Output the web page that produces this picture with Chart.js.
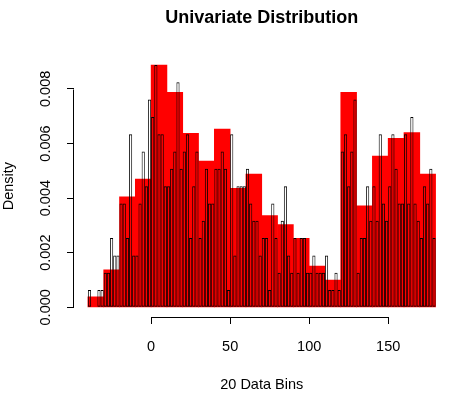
<!DOCTYPE html>
<html><head><meta charset="utf-8">
<script src="https://cdn.jsdelivr.net/npm/chart.js@4/dist/chart.umd.min.js"></script>
<style>html,body{margin:0;padding:0;background:#fff}canvas{display:block}</style>
</head><body>
<canvas id="c" width="463" height="398"></canvas>
<script>
// ---- data ----
const titleText = 'Univariate Distribution';
const xTitle = '20 Data Bins';
const yTitle = 'Density';

// coarse histogram (bin width 10): bin midpoints and densities
const redMids = [-35,-25,-15,-5,5,15,25,35,45,55,65,75,85,95,105,115,125,135,145,155,165,175];
const redDensity = [0.00038,0.00137,0.00405,0.0047,0.008875,0.007875,0.00637,0.00536,0.00653,0.00436,0.00488,
                    0.00336,0.00303,0.00253,0.00151,0.00100,0.007875,0.00372,0.00554,0.00619,0.0064,0.00488];

// fine histogram (bin width 2): bin midpoints and densities
const narrowMids = [-39,-37,-35,-33,-31,-29,-27,-25,-23,-21,
  -19,-17,-15,-13,-11,-9,-7,-5,-3,-1,
  1,3,5,7,9,11,13,15,17,19,
  21,23,25,27,29,31,33,35,37,39,
  41,43,45,47,49,51,53,55,57,59,
  61,63,65,67,69,71,73,75,77,79,
  81,83,85,87,89,91,93,95,97,99,
  101,103,105,107,109,111,113,115,117,119,
  121,123,125,127,129,131,133,135,137,139,
  141,143,145,147,149,151,153,155,157,159,
  161,163,165,167,169,171,173,175,177,179];
const narrowDensity = [
  0.000634,0,0,0.000634,0.000634,0.001268,0.001268,0.002536,0.001902,0.001902,
  0.003804,0.003804,0.002536,0.00634,0.001902,0.001902,0.003804,0.005706,0.004438,0.007608,
  0.006974,0.008876,0.00634,0.00634,0.004438,0.004438,0.005072,0.005706,0.008242,0.005072,
  0.005706,0.00634,0.002536,0.004438,0.005706,0.002536,0.00317,0.005072,0.003804,0.003804,
  0.005072,0.005072,0.005706,0.005072,0.000634,0.00634,0.001902,0.004438,0.004438,0.004438,
  0.005072,0.003804,0.00317,0.00317,0.001902,0.002536,0.002536,0.000634,0.003804,0.002536,
  0.001268,0.00317,0.004438,0.001902,0.001268,0.002536,0.001268,0.002536,0.002536,0.001268,
  0.001268,0.001902,0.001268,0.001268,0.001268,0.001902,0.000634,0.000634,0.001268,0.000634,
  0.005706,0.00634,0.004438,0.005706,0.007608,0.001268,0.002536,0.002536,0.004438,0.00317,
  0.004438,0.00317,0.00634,0.003804,0.00317,0.004438,0.00634,0.005072,0.003804,0.003804,
  0.00634,0.003804,0.006974,0.003804,0.00317,0.002536,0.004438,0.003804,0.005072,0.002536];

const xTickValues = [0, 50, 100, 150];
const xTickLabels = ['0', '50', '100', '150'];
const yTickValues = [0, 0.002, 0.004, 0.006, 0.008];
const yTickLabels = ['0.000', '0.002', '0.004', '0.006', '0.008'];

// ---- chart ----
const FONT = "'Liberation Sans', Arial, sans-serif";
const X_MIN = -48.8, X_MAX = 188.8, Y_MIN = -0.000355, Y_MAX = 0.00923;

// R-style axis lines spanning only first..last tick
const rAxes = {
  id: 'rAxes',
  afterDatasetsDraw(chart) {
    const ctx = chart.ctx, xs = chart.scales.x, ys = chart.scales.y, a = chart.chartArea;
    const al = v => Math.round(v) + 0.5;
    ctx.save();
    ctx.strokeStyle = '#000';
    ctx.lineWidth = 1;
    ctx.beginPath();
    const ax = Math.round(a.left) - 0.5;
    ctx.moveTo(ax, al(ys.getPixelForValue(yTickValues[0])));
    ctx.lineTo(ax, al(ys.getPixelForValue(yTickValues[yTickValues.length - 1])));
    const ay = Math.round(a.bottom) + 0.5;
    ctx.moveTo(al(xs.getPixelForValue(xTickValues[0])), ay);
    ctx.lineTo(al(xs.getPixelForValue(xTickValues[xTickValues.length - 1])), ay);
    ctx.stroke();
    ctx.restore();
  }
};

const axisFont = {family: FONT, size: 14.5, lineHeight: 1.2};
const tickGrid = {display: true, drawOnChartArea: false, drawTicks: true, tickLength: 7, offset: false,
                  color: '#000', tickColor: '#000', lineWidth: 1, tickWidth: 1};

new Chart(document.getElementById('c'), {
  type: 'bar',
  data: {
    datasets: [
      {
        label: 'fine',
        data: narrowMids.map((m, i) => ({x: m, y: narrowDensity[i]})),
        xAxisID: 'x2', yAxisID: 'y',
        backgroundColor: 'rgba(0,0,0,0)',
        borderColor: '#000',
        borderWidth: {top: 1, bottom: 1, left: 0.8, right: 0.8},
        borderSkipped: false,
        inflateAmount: 0,
        grouped: false,
        barPercentage: 1, categoryPercentage: 1,
        order: 1
      },
      {
        label: 'coarse',
        data: redMids.map((m, i) => ({x: m, y: redDensity[i]})),
        xAxisID: 'x', yAxisID: 'y',
        backgroundColor: '#ff0000',
        borderWidth: 0,
        grouped: false,
        barPercentage: 1, categoryPercentage: 1,
        order: 2
      }
    ]
  },
  options: {
    responsive: false, animation: false, devicePixelRatio: 1, events: [],
    layout: {padding: {left: 0, right: 13.5, top: 0, bottom: 0}},
    plugins: {
      legend: {display: false},
      tooltip: {enabled: false},
      title: {
        display: true, text: titleText, fullSize: false, color: '#000',
        font: {family: FONT, size: 18, weight: 'bold', lineHeight: 1.2},
        padding: {top: 7.2, bottom: 26.5}
      }
    },
    scales: {
      x: {
        type: 'linear', position: 'bottom', min: X_MIN, max: X_MAX, offset: false,
        grid: tickGrid, border: {display: false},
        afterBuildTicks: ax => { ax.ticks = xTickValues.map(v => ({value: v})); },
        ticks: {callback: (v, i) => xTickLabels[i], color: '#000', font: axisFont,
                padding: 14, minRotation: 0, maxRotation: 0, autoSkip: false},
        title: {display: true, text: xTitle, color: '#000', font: axisFont, padding: {top: 0, bottom: 4.3}},
        afterFit: s => { s.height = 81; }
      },
      x2: {
        type: 'linear', display: false, min: X_MIN, max: X_MAX, offset: false,
        grid: {offset: false},
        afterBuildTicks: ax => { ax.ticks = xTickValues.map(v => ({value: v})); }
      },
      y: {
        type: 'linear', position: 'left', min: Y_MIN, max: Y_MAX,
        grid: tickGrid, border: {display: false},
        afterBuildTicks: ax => { ax.ticks = yTickValues.map(v => ({value: v})); },
        ticks: {callback: (v, i) => yTickLabels[i], color: '#000', font: axisFont,
                minRotation: 90, maxRotation: 90, crossAlign: 'center', padding: 3, autoSkip: false},
        title: {display: true, text: yTitle, color: '#000', font: axisFont, padding: {top: 0, bottom: 0}},
        afterFit: s => { s.width = 74; }
      }
    }
  },
  plugins: [rAxes]
});
</script>
</body></html>
